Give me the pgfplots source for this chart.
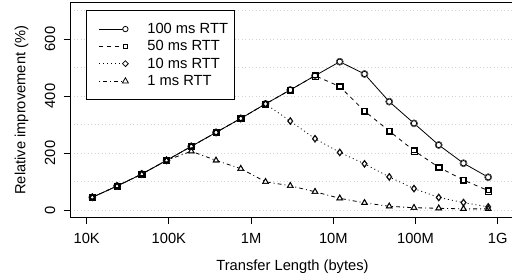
\documentclass[border=0pt]{standalone}
\usepackage{pgfplots}
\pgfplotsset{compat=1.18}
\usepackage{pgfplotstable}
\usepackage{fontspec}
\setmainfont{Liberation Sans}
\newcommand{\ff}{\fontsize{14.7bp}{17bp}\selectfont}

\pgfplotstableread{
x a b c d
11700 44.5 44.5 44.5 44.5
23400 84 84 84 84
46800 126 126 126 126
93600 174 174 174 174
187200 223 223 223 206
374400 272 272 272 174
748800 321 321 321 145
1497600 372 372 372 99
2995200 421 421 312 85
5990400 471 471 250 64
11980800 520 433 202 41
23961600 477 347 162 25
47923200 380 277 116 13
95846400 304 208 75 8
191692800 228 150 44 6
383385600 164 105 26 4
766771200 115 68 11 4
}\data

\begin{document}
\begin{tikzpicture}
\begin{axis}[
  scale only axis, width=445bp, height=215bp,
  xmode=log, xmin=6266, xmax=1.6237e9, ymin=-27, ymax=727,
  axis line style={line width=0.8bp},
  every tick/.style={black, line width=0.8bp},
  tick align=outside, major tick length=6.5bp, minor tick length=0pt,
  xtick pos=bottom, ytick pos=left,
  xtick={1e4,1e5,1e6,1e7,1e8,1e9},
  xticklabels={10K,100K,1M,10M,100M,1G},
  xminorticks=false,
  ytick={0,200,400,600},
  minor ytick={100,300,500,700},
  ymajorgrids, yminorgrids,
  major grid style={gray!35, line width=0.8bp, dash pattern=on 1bp off 2.5bp},
  minor grid style={gray!35, line width=0.8bp, dash pattern=on 1bp off 2.5bp},
  /pgf/number format/assume math mode=true,
  tick label style={font=\ff},
  yticklabel style={xshift=-8.5bp, rotate=90, anchor=base},
  xticklabel style={yshift=-18.8bp, anchor=base},
  label style={font=\ff},
  xlabel={Transfer Length (bytes)},
  ylabel={Relative improvement (\%)},
  xlabel style={at={(axis description cs:0.5,-0.2433)}, anchor=base},
  ylabel style={at={(axis description cs:-0.1,0.5)}, anchor=base, rotate=0},
  legend style={at={(axis description cs:0,1)}, anchor=north west,
    xshift=16bp, yshift=-7.3bp, draw=black, line width=0.8bp,
    inner xsep=6bp, inner ysep=10bp, font=\ff,
    nodes={inner sep=0pt}, row sep=0pt},
  legend cell align=left,
]
\coordinate (bl) at (rel axis cs:0,0);
% lines
\addplot[forget plot, line width=0.8bp, solid] table[x=x,y=a]{\data};
\addplot[forget plot, line width=0.8bp, dash pattern=on 4bp off 4bp] table[x=x,y=b]{\data};
\addplot[forget plot, line width=0.8bp, dash pattern=on 1bp off 3bp] table[x=x,y=c]{\data};
\addplot[forget plot, line width=0.8bp, dash pattern=on 1bp off 3bp on 4bp off 3bp] table[x=x,y=d]{\data};
% white fills
\addplot[forget plot, only marks, mark=*, mark size=3.6bp, mark options={fill=white, draw=none}] table[x=x,y=a]{\data};
\addplot[forget plot, only marks, mark=square*, mark size=3.1bp, mark options={fill=white, draw=none}] table[x=x,y=b]{\data};
\addplot[forget plot, only marks, mark=diamond*, mark size=3.8bp, mark options={fill=white, draw=none}] table[x=x,y=c]{\data};
\addplot[forget plot, only marks, mark=triangle*, mark size=3.8bp, mark options={fill=white, draw=none}] table[x=x,y=d]{\data};
% outlines
\addplot[forget plot, only marks, mark=o, mark size=2.7bp, mark options={line width=0.8bp, solid, draw=black}] table[x=x,y=a]{\data};
\addplot[forget plot, only marks, mark=square, mark size=2.2bp, mark options={line width=0.8bp, solid, draw=black}] table[x=x,y=b]{\data};
\addplot[forget plot, only marks, mark=diamond, mark size=2.9bp, mark options={line width=0.8bp, solid, draw=black}] table[x=x,y=c]{\data};
\addplot[forget plot, only marks, mark=triangle, mark size=3bp, mark options={line width=0.8bp, solid, draw=black}] table[x=x,y=d]{\data};
% legend
\addlegendimage{legend image code/.code={
  \path[draw=none] (-7bp,-8.65bp) rectangle (48bp,8.65bp);
  \draw[line width=0.8bp, solid] (0bp,0bp) -- (26bp,0bp);
  \draw[line width=0.8bp, solid, fill=white] (26bp,0bp) circle (2.7bp);}}
\addlegendentry{100 ms RTT}
\addlegendimage{legend image code/.code={
  \path[draw=none] (-7bp,-8.65bp) rectangle (48bp,8.65bp);
  \draw[line width=0.8bp, dash pattern=on 4bp off 4bp] (0bp,0bp) -- (26bp,0bp);
  \draw[line width=0.8bp, solid, fill=white] (23.8bp,-2.2bp) rectangle (28.2bp,2.2bp);}}
\addlegendentry{50 ms RTT}
\addlegendimage{legend image code/.code={
  \path[draw=none] (-7bp,-8.65bp) rectangle (48bp,8.65bp);
  \draw[line width=0.8bp, dash pattern=on 1bp off 3bp] (0bp,0bp) -- (26bp,0bp);
  \draw[line width=0.8bp, solid, fill=white] (23.1bp,0bp) -- (26bp,2.9bp) -- (28.9bp,0bp) -- (26bp,-2.9bp) -- cycle;}}
\addlegendentry{10 ms RTT}
\addlegendimage{legend image code/.code={
  \path[draw=none] (-7bp,-8.65bp) rectangle (48bp,8.65bp);
  \draw[line width=0.8bp, dash pattern=on 1bp off 3bp on 4bp off 3bp] (0bp,0bp) -- (26bp,0bp);
  \draw[line width=0.8bp, solid, fill=white] (23bp,-2bp) -- (29bp,-2bp) -- (26bp,3.2bp) -- cycle;}}
\addlegendentry{1 ms RTT}
\end{axis}
\pgfresetboundingbox
\path[use as bounding box] ([shift={(-70bp,-57.3bp)}]bl) rectangle ++(512bp,275bp);
\end{tikzpicture}
\end{document}
